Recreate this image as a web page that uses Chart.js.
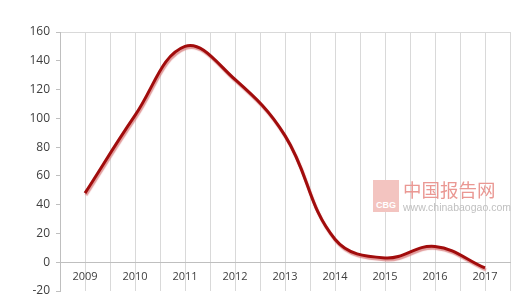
<!DOCTYPE html>
<html>
<head>
<meta charset="utf-8">
<script src="https://cdn.jsdelivr.net/npm/chart.js@4/dist/chart.umd.min.js"></script>
<style>
html,body{margin:0;padding:0;background:#fff;}
#wrap{position:relative;width:520px;height:295px;}
#wm{position:absolute;left:373px;top:180px;width:130px;height:34px;pointer-events:none;}
#logo{position:absolute;left:0;top:0;width:26px;height:32px;background:#f3c4c0;color:#fff;font:bold 9px "Liberation Sans",sans-serif;text-align:center;}
#logo span{position:absolute;left:0;right:0;bottom:2px;}
#cn{position:absolute;left:30px;top:-1px;font:18.5px "Noto Sans CJK SC",sans-serif;color:#ea9893;line-height:20px;white-space:nowrap;}
#url{position:absolute;left:30px;top:21px;font:10.5px "Liberation Sans",sans-serif;color:#c0c0c0;line-height:12px;white-space:nowrap;}
</style>
</head>
<body>
<div id="wrap">
<canvas id="c" width="520" height="295"></canvas>
<div id="wm"><div id="logo"><span>CBG</span></div><div id="cn">中国报告网</div><div id="url">www.chinabaogao.com</div></div>
</div>
<script>
const years = ['2009','2010','2011','2012','2013','2014','2015','2016','2017'];
const values = [48, 102, 150, 127, 88, 16, 3, 11, -4];
const yTicks = [-20, 0, 20, 40, 60, 80, 100, 120, 140, 160];

const shadowPlugin = {
  id: 'shadow',
  beforeDatasetDraw(chart) {
    const ctx = chart.ctx;
    ctx.save();
    ctx.shadowColor = 'rgba(215,120,120,0.75)';
    ctx.shadowOffsetX = 1;
    ctx.shadowOffsetY = 2;
    ctx.shadowBlur = 1;
  },
  afterDatasetDraw(chart) {
    chart.ctx.restore();
  }
};

new Chart(document.getElementById('c'), {
  type: 'line',
  data: {
    datasets: [{
      data: values.map((v, i) => ({x: i, y: v})),
      borderColor: '#a10c0c',
      borderWidth: 3,
      pointRadius: 0,
      tension: 0.4,
      fill: false
    }]
  },
  options: {
    responsive: false,
    animation: false,
    devicePixelRatio: 1,
    layout: {padding: {top: 32, right: 10, bottom: 4, left: 0}},
    plugins: {legend: {display: false}, tooltip: {enabled: false}},
    scales: {
      x: {
        type: 'linear',
        position: {y: 0},
        min: -0.5,
        max: 8.5,
        afterBuildTicks(scale) {
          const t = [];
          for (let i = 0; i <= 18; i++) t.push({value: -0.5 + i * 0.5});
          scale.ticks = t;
        },
        afterFit(scale) { scale.height = 0; scale.paddingLeft = 0; scale.paddingRight = 0; },
        ticks: {
          autoSkip: false,
          maxRotation: 0,
          padding: 8,
          color: '#404040',
          font: {family: 'Open Sans', size: 11},
          callback: (v) => Number.isInteger(v) ? years[v] : ''
        },
        grid: {color: '#d9d9d9', lineWidth: 1, drawTicks: false},
        border: {display: true, color: '#bfbfbf', width: 1}
      },
      y: {
        min: -20,
        max: 160,
        afterBuildTicks(scale) { scale.ticks = yTicks.map(v => ({value: v})); },
        afterFit(scale) { scale.width = 60; scale.paddingTop = 0; scale.paddingBottom = 0; },
        ticks: {
          padding: 6,
          color: '#404040',
          font: {family: 'Open Sans', size: 12}
        },
        grid: {
          color: (c) => c.tick && c.tick.value === 160 ? '#d9d9d9' : 'rgba(0,0,0,0)',
          tickColor: '#bfbfbf',
          tickLength: 4
        },
        border: {display: true, color: '#bfbfbf'}
      }
    }
  },
  plugins: [shadowPlugin]
});
</script>
</body>
</html>
